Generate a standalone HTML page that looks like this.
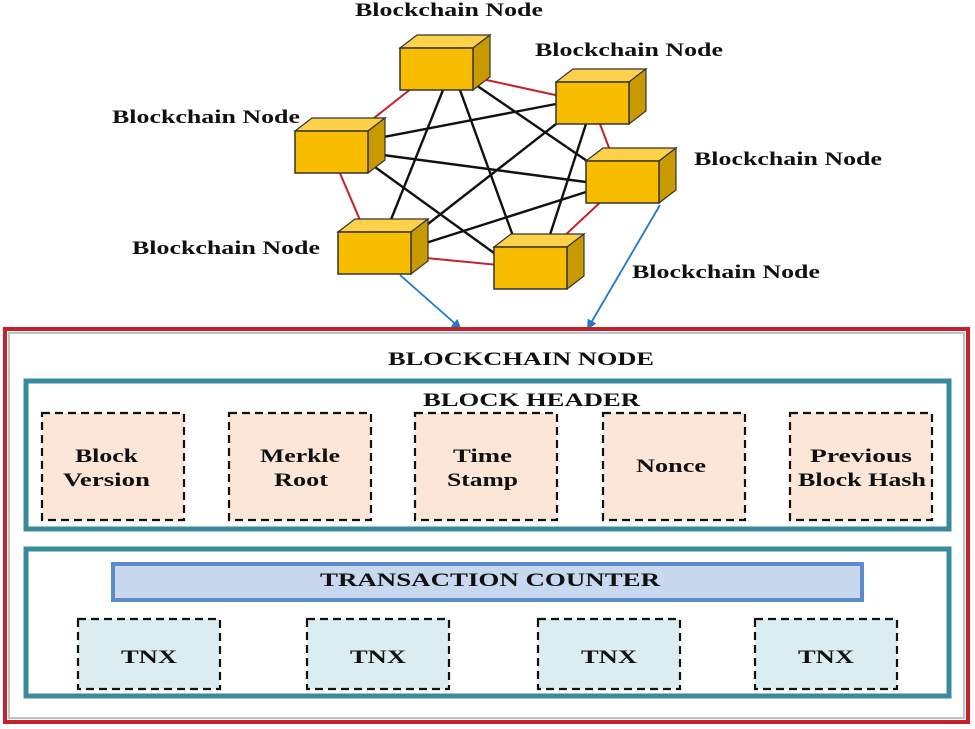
<!DOCTYPE html>
<html><head><meta charset="utf-8"><style>
html,body{margin:0;padding:0;background:#fff;}
svg{display:block;}
text{font-family:"Liberation Serif",serif;font-weight:bold;fill:#111;}
</style></head><body>
<svg width="975" height="729" viewBox="0 0 975 729" xmlns="http://www.w3.org/2000/svg">
<defs>
<marker id="ah" markerWidth="10" markerHeight="10" refX="8" refY="5" orient="auto" markerUnits="userSpaceOnUse">
<path d="M0,0 L10,5 L0,10 z" fill="#1f78c8"/></marker>
<g id="cube">
<polygon points="0,0 17,-13 90,-13 73,0" fill="#fdd24a" stroke="#333" stroke-width="1.2"/>
<polygon points="73,0 90,-13 90,29 73,42" fill="#c99a00" stroke="#333" stroke-width="1.2"/>
<rect x="0" y="0" width="73" height="42" fill="#f9bd00" stroke="#333" stroke-width="1.5"/>
</g>
</defs>
<g stroke="#c8202a" stroke-width="2" fill="none">
<polyline points="436,69 592,103 622,182 530,268 374,253 331,152 436,69"/>
</g>
<g stroke="#111" stroke-width="2.4">
<line x1="443" y1="90" x2="386" y2="232"/>
<line x1="460" y1="90" x2="517" y2="247"/>
<line x1="476" y1="85" x2="590" y2="163"/>
<line x1="368" y1="140" x2="556" y2="104"/>
<line x1="368" y1="153" x2="586" y2="182"/>
<line x1="368" y1="162" x2="494" y2="253"/>
<line x1="410" y1="238" x2="556" y2="124"/>
<line x1="410" y1="248" x2="586" y2="192"/>
<line x1="586" y1="124" x2="546" y2="247"/>
</g>
<use href="#cube" x="400" y="48"/>
<use href="#cube" x="556" y="82"/>
<use href="#cube" x="295" y="131"/>
<use href="#cube" x="586" y="161"/>
<use href="#cube" x="338" y="232"/>
<use href="#cube" x="494" y="247"/>
<g stroke="#1f78c8" stroke-width="1.8" fill="none">
<line x1="400" y1="275" x2="460" y2="328" marker-end="url(#ah)"/>
<line x1="660" y1="205" x2="588" y2="328" marker-end="url(#ah)"/>
</g>
<g font-size="19" lengthAdjust="spacingAndGlyphs">
<text x="355" y="16" textLength="188" lengthAdjust="spacingAndGlyphs">Blockchain Node</text>
<text x="535" y="56" textLength="188" lengthAdjust="spacingAndGlyphs">Blockchain Node</text>
<text x="112" y="123" textLength="188" lengthAdjust="spacingAndGlyphs">Blockchain Node</text>
<text x="694" y="165" textLength="188" lengthAdjust="spacingAndGlyphs">Blockchain Node</text>
<text x="132" y="254" textLength="188" lengthAdjust="spacingAndGlyphs">Blockchain Node</text>
<text x="632" y="278" textLength="188" lengthAdjust="spacingAndGlyphs">Blockchain Node</text>
</g>
<rect x="5" y="329" width="963" height="393" fill="#fff" stroke="#c8202a" stroke-width="4"/>
<rect x="9" y="333" width="955" height="385" fill="none" stroke="#b8c4cc" stroke-width="2"/>
<text x="388" y="365" font-size="19" textLength="266" lengthAdjust="spacingAndGlyphs">BLOCKCHAIN NODE</text>
<rect x="26" y="381" width="923" height="148" fill="#fff" stroke="#3a8a9c" stroke-width="5"/>
<text x="423" y="406" font-size="19" textLength="217" lengthAdjust="spacingAndGlyphs">BLOCK HEADER</text>
<g fill="#fbe6d8" stroke="#111" stroke-width="2.2" stroke-dasharray="8,5">
<rect x="42" y="413" width="142" height="107"/>
<rect x="229" y="413" width="142" height="107"/>
<rect x="415" y="413" width="142" height="107"/>
<rect x="603" y="413" width="142" height="107"/>
<rect x="790" y="413" width="142" height="107"/>
</g>
<g font-size="19">
<text x="75" y="462" textLength="63" lengthAdjust="spacingAndGlyphs">Block</text>
<text x="63" y="486" textLength="87" lengthAdjust="spacingAndGlyphs">Version</text>
<text x="260" y="462" textLength="80" lengthAdjust="spacingAndGlyphs">Merkle</text>
<text x="274" y="486" textLength="54" lengthAdjust="spacingAndGlyphs">Root</text>
<text x="453" y="462" textLength="59" lengthAdjust="spacingAndGlyphs">Time</text>
<text x="447" y="486" textLength="71" lengthAdjust="spacingAndGlyphs">Stamp</text>
<text x="636" y="472" textLength="70" lengthAdjust="spacingAndGlyphs">Nonce</text>
<text x="810" y="462" textLength="102" lengthAdjust="spacingAndGlyphs">Previous</text>
<text x="798" y="486" textLength="128" lengthAdjust="spacingAndGlyphs">Block Hash</text>
</g>
<rect x="26" y="549" width="923" height="147" fill="#fff" stroke="#3a8a9c" stroke-width="5"/>
<rect x="113" y="564" width="749" height="36" fill="#c7d8ef" stroke="#5b8cc9" stroke-width="4"/>
<text x="320" y="586" font-size="19" textLength="340" lengthAdjust="spacingAndGlyphs">TRANSACTION COUNTER</text>
<g fill="#dcedf2" stroke="#111" stroke-width="2.2" stroke-dasharray="8,5">
<rect x="78" y="619" width="142" height="70"/>
<rect x="307" y="619" width="142" height="70"/>
<rect x="538" y="619" width="142" height="70"/>
<rect x="755" y="619" width="142" height="70"/>
</g>
<g font-size="19">
<text x="121" y="663" textLength="56" lengthAdjust="spacingAndGlyphs">TNX</text>
<text x="350" y="663" textLength="56" lengthAdjust="spacingAndGlyphs">TNX</text>
<text x="581" y="663" textLength="56" lengthAdjust="spacingAndGlyphs">TNX</text>
<text x="798" y="663" textLength="56" lengthAdjust="spacingAndGlyphs">TNX</text>
</g>
</svg>
</body></html>
